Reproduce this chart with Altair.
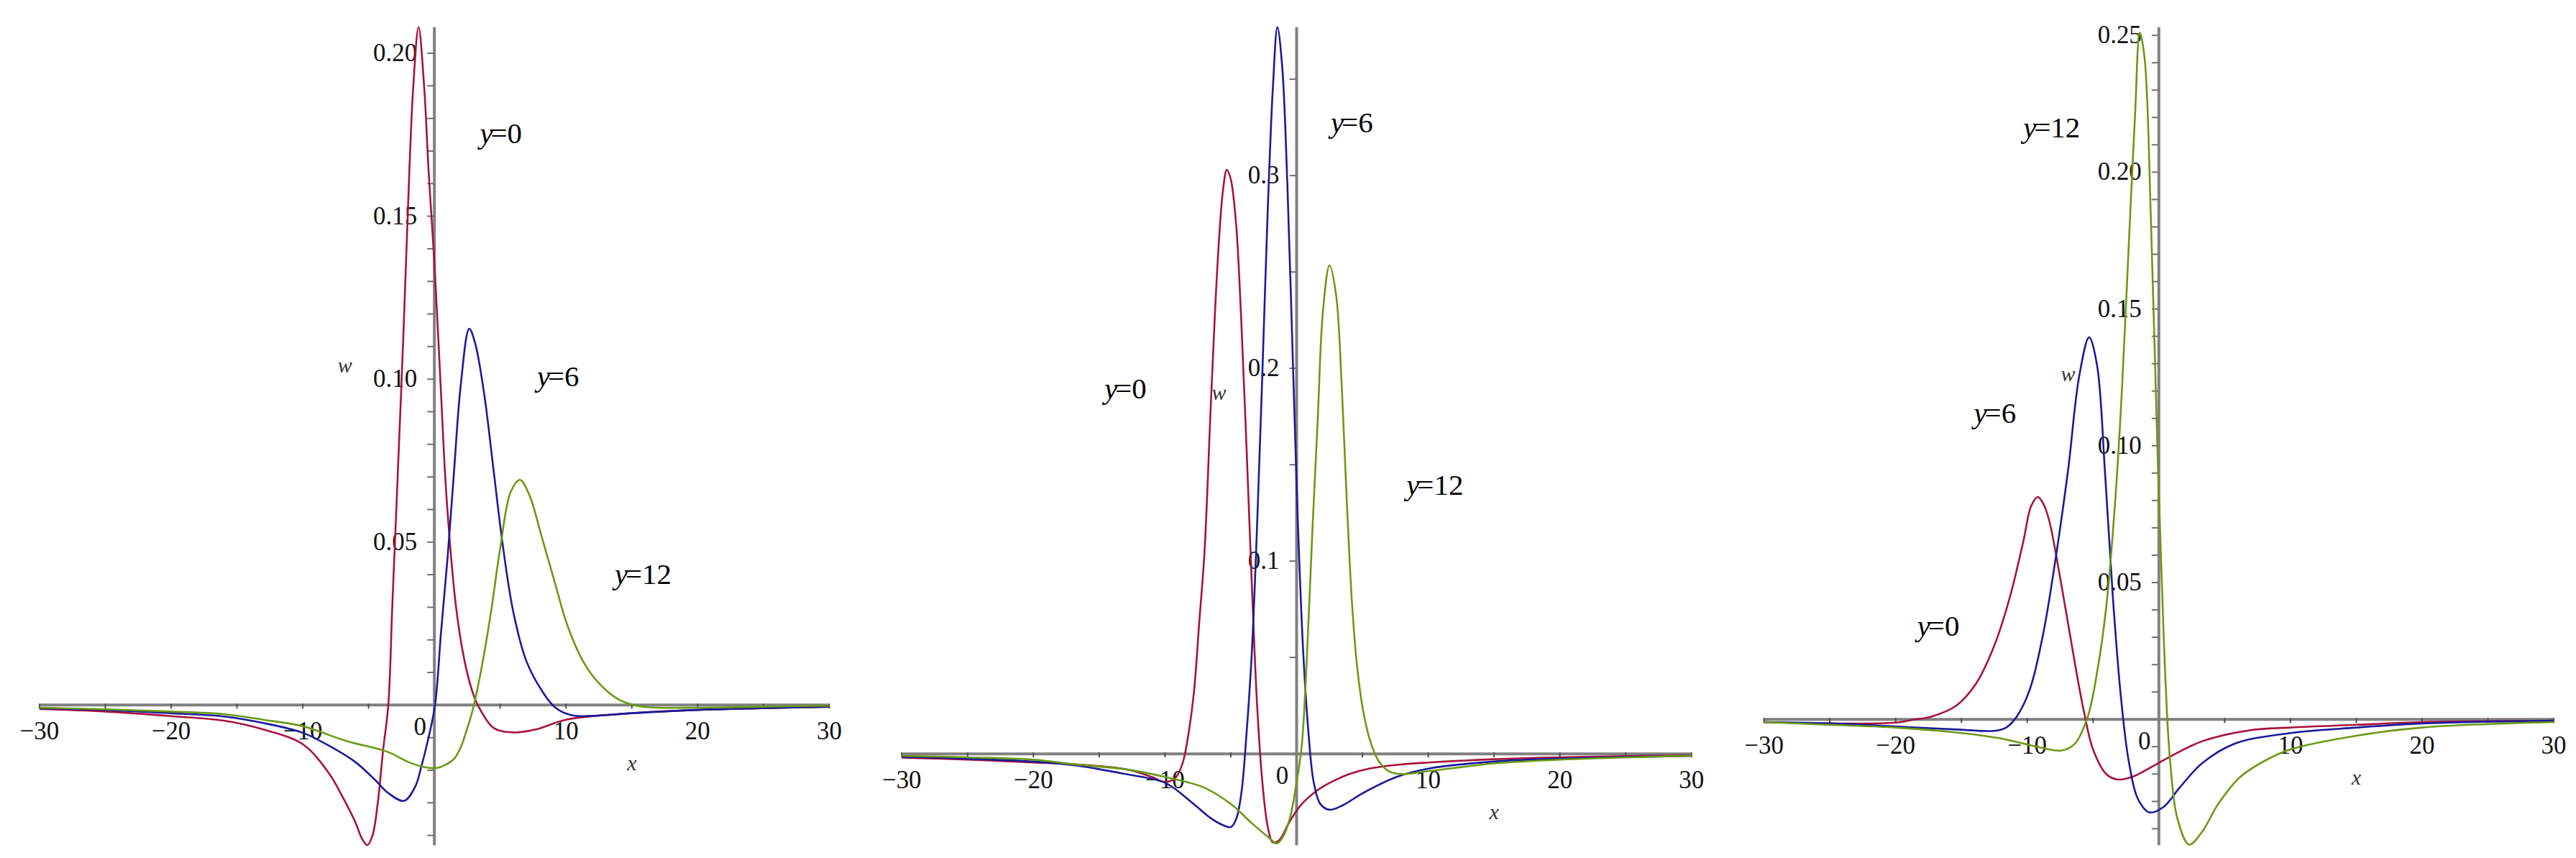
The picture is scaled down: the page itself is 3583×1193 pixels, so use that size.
import altair as alt
import pandas as pd

# ---------------- data ----------------
# Panel 1
P1_Y0_X = [-30, -25, -20, -16, -13, -10, -8, -7, -6, -5.5, -5.1, -4.7, -4.3, -3.9, -3.5, -3.2, -2.85, -2.35, -1.9, -1.6, -1.2, -0.78, -0.44, 0.0, 0.49, 0.92, 1.65, 2.3, 2.9, 3.3, 4.5, 6.0, 7.7, 10, 15, 20, 30]
P1_Y0_W = [-0.0012, -0.002, -0.0034, -0.0048, -0.0075, -0.012, -0.021, -0.028, -0.036, -0.041, -0.043, -0.040, -0.030, -0.014, 0.0, 0.030, 0.064, 0.114, 0.164, 0.190, 0.208, 0.190, 0.164, 0.136, 0.097, 0.064, 0.030, 0.0134, 0.004, 0.0, -0.007, -0.0084, -0.0075, -0.0045, -0.0025, -0.0015, -0.0005]
P1_Y6_X = [-30, -25, -20, -16, -13, -10, -8, -6, -4.5, -3.5, -2.3, -1.45, -1.0, -0.5, 0.05, 0.5, 1.0, 1.5, 2.0, 2.65, 3.1, 3.8, 4.5, 5.2, 6.0, 7.0, 8.2, 9.2, 10.5, 12, 15, 20, 30]
P1_Y6_W = [-0.001, -0.0015, -0.0025, -0.0035, -0.0055, -0.0085, -0.0125, -0.0175, -0.023, -0.027, -0.0294, -0.025, -0.019, -0.011, 0.0, 0.022, 0.045, 0.072, 0.098, 0.1155, 0.111, 0.095, 0.072, 0.049, 0.0285, 0.0134, 0.0042, -0.0008, -0.0032, -0.0033, -0.0025, -0.0015, -0.0005]
P1_Y12_X = [-30, -25, -20, -16, -13, -10, -6.7, -3.6, -1.9, -0.8, 0.2, 1.0, 1.5, 2.0, 2.4, 2.9, 3.6, 4.3, 5.0, 5.8, 6.5, 7.2, 8.2, 9.2, 10.1, 11.3, 12.5, 14, 15.5, 17, 20, 25, 30]
P1_Y12_W = [-0.0008, -0.0013, -0.002, -0.0028, -0.0045, -0.0065, -0.011, -0.0143, -0.0176, -0.019, -0.0193, -0.018, -0.0165, -0.013, -0.0084, -0.0017, 0.0117, 0.0285, 0.048, 0.0654, 0.0691, 0.0646, 0.0510, 0.0369, 0.0245, 0.0134, 0.0067, 0.0017, -0.0003, -0.0008, -0.0008, -0.0005, -0.0002]

# Panel 2
P2_Y0_X = [-30, -25, -20, -16.8, -13, -11, -10.1, -9.4, -9.0, -8.6, -8.2, -7.8, -7.4, -7.0, -6.5, -6.0, -5.6, -5.3, -5.0, -4.6, -4.2, -3.8, -3.4, -3.0, -2.6, -2.2, -1.8, -1.3, -0.6, 0.2, 1.0, 2.0, 3.0, 4.0, 5.5, 7.6, 10, 15, 20, 30]
P2_Y0_W = [-0.002, -0.003, -0.0045, -0.0055, -0.008, -0.012, -0.0145, -0.0135, -0.0105, -0.0034, 0.011, 0.032, 0.068, 0.1045, 0.184, 0.255, 0.292, 0.303, 0.298, 0.275, 0.224, 0.158, 0.0875, 0.025, -0.0148, -0.0375, -0.046, -0.0446, -0.036, -0.0276, -0.022, -0.017, -0.0134, -0.0105, -0.0077, -0.0057, -0.0045, -0.0028, -0.0018, -0.0008]
P2_Y6_X = [-30, -25, -20, -16.8, -13, -10, -8, -6.5, -5.6, -5.0, -4.6, -4.2, -3.8, -3.4, -3.0, -2.6, -2.2, -1.8, -1.46, -1.1, -0.7, -0.3, 0.1, 0.5, 0.9, 1.3, 1.8, 2.5, 3.5, 5, 7.6, 10, 15, 20, 30]
P2_Y6_W = [-0.0015, -0.0025, -0.004, -0.006, -0.0105, -0.015, -0.025, -0.0335, -0.037, -0.038, -0.034, -0.0205, 0.011, 0.053, 0.119, 0.198, 0.281, 0.346, 0.377, 0.357, 0.295, 0.207, 0.119, 0.053, 0.011, -0.0148, -0.026, -0.029, -0.0267, -0.0205, -0.012, -0.0077, -0.004, -0.0025, -0.001]
P2_Y12_X = [-30, -25, -20, -16.8, -13, -10, -7, -5, -3.4, -2.1, -1.5, -1.0, -0.5, 0.0, 0.4, 0.8, 1.2, 1.6, 2.0, 2.5, 3.0, 3.4, 3.8, 4.2, 4.6, 5.1, 5.6, 6.2, 7.0, 8, 10, 15, 20, 30]
P2_Y12_W = [-0.001, -0.0018, -0.003, -0.0055, -0.008, -0.012, -0.0176, -0.026, -0.036, -0.0435, -0.0465, -0.0426, -0.033, -0.0148, 0.005, 0.053, 0.116, 0.173, 0.2295, 0.2534, 0.238, 0.195, 0.133, 0.079, 0.045, 0.0207, 0.0065, -0.0034, -0.009, -0.0105, -0.009, -0.005, -0.003, -0.001]

# Panel 3
P3_Y0_X = [-30, -25, -20, -18.5, -17.3, -15.4, -13.9, -12.5, -11.3, -10.3, -9.7, -9.2, -8.8, -8.35, -7.4, -6.4, -5.7, -5.0, -4.0, -3.15, -2.0, -0.4, 1.1, 3.3, 6.9, 10, 15, 20, 30]
P3_Y0_W = [-0.001, -0.0015, -0.0012, 0.0, 0.001, 0.005, 0.013, 0.027, 0.045, 0.065, 0.078, 0.0813, 0.079, 0.073, 0.049, 0.021, 0.003, -0.011, -0.020, -0.022, -0.021, -0.017, -0.013, -0.008, -0.004, -0.003, -0.002, -0.001, -0.0005]
P3_Y6_X = [-30, -25, -20, -15, -12.5, -11.6, -10.8, -9.8, -8.8, -7.9, -6.9, -6.05, -5.3, -4.7, -4.1, -3.5, -2.9, -2.3, -1.6, -0.73, 0.36, 1.57, 3.3, 5.7, 10, 15, 20, 30]
P3_Y6_W = [-0.001, -0.0015, -0.0026, -0.0038, -0.0042, -0.003, 0.001, 0.011, 0.031, 0.057, 0.091, 0.1255, 0.1396, 0.1295, 0.091, 0.045, 0.009, -0.015, -0.029, -0.034, -0.032, -0.025, -0.016, -0.009, -0.005, -0.003, -0.0015, -0.0005]
P3_Y12_X = [-30, -25, -20, -15, -12, -9.8, -7.4, -6.4, -5.4, -4.7, -4.0, -3.3, -2.8, -2.3, -1.8, -1.45, -1.09, -0.6, -0.12, 0.36, 0.85, 1.45, 2.3, 3.3, 4.5, 6.2, 8.1, 10, 15, 20, 30]
P3_Y12_W = [-0.001, -0.002, -0.003, -0.005, -0.007, -0.0094, -0.0114, -0.009, 0.001, 0.017, 0.041, 0.081, 0.121, 0.172, 0.222, 0.251, 0.242, 0.182, 0.101, 0.031, -0.015, -0.037, -0.0458, -0.041, -0.031, -0.021, -0.015, -0.011, -0.006, -0.003, -0.001]

SERIES = ["y=0", "y=6", "y=12"]
COLORS = ["#a8123c", "#1a1a9c", "#6a9a14"]

# axis extents
P1_YDOM = [-0.043, 0.208]
P2_YDOM = [-0.0474, 0.377]
P3_YDOM = [-0.046, 0.253]
XDOM = [-30, 30]

# ticks and tick labels
X_TICKS = [-30, -25, -20, -15, -10, -5, 5, 10, 15, 20, 25, 30]
X_LABEL_VALS = [-30, -20, -10, 10, 20, 30]
X_LABELS = ["\u221230", "\u221220", "\u221210", "10", "20", "30"]
P1_YTICKS = [-0.04, -0.03, -0.02, -0.01, 0.01, 0.02, 0.03, 0.04, 0.05, 0.06, 0.07, 0.08, 0.09, 0.10,
             0.11, 0.12, 0.13, 0.14, 0.15, 0.16, 0.17, 0.18, 0.19, 0.20]
P1_YLABEL_VALS = [0.05, 0.10, 0.15, 0.20]
P1_YLABELS = ["0.05", "0.10", "0.15", "0.20"]
P2_YTICKS = [0.05, 0.10, 0.15, 0.20, 0.25, 0.30, 0.35]
P2_YLABEL_VALS = [0.1, 0.2, 0.3]
P2_YLABELS = ["0.1", "0.2", "0.3"]
P3_YTICKS = [-0.04, -0.03, -0.02, -0.01, 0.01, 0.02, 0.03, 0.04, 0.05, 0.06, 0.07, 0.08, 0.09, 0.10,
             0.11, 0.12, 0.13, 0.14, 0.15, 0.16, 0.17, 0.18, 0.19, 0.20, 0.21, 0.22, 0.23, 0.24, 0.25]
P3_YLABEL_VALS = [0.05, 0.10, 0.15, 0.20, 0.25]
P3_YLABELS = ["0.05", "0.10", "0.15", "0.20", "0.25"]

# curve annotations (left edge x, vertical centre w)
P1_ANN_X = [3.46, 7.8, 13.7]
P1_ANN_W = [0.175, 0.1004, 0.0399]
P2_ANN_X = [-14.6, 2.6, 8.35]
P2_ANN_W = [0.189, 0.327, 0.139]
P3_ANN_X = [-18.35, -14.05, -10.3]
P3_ANN_W = [0.0337, 0.1116, 0.216]
ANN_REST = ["=0", "=6", "=12"]

# axis-title positions ("w" and "x")
P1_WLAB = (-6.8, 0.104)
P2_WLAB = (-5.9, 0.187)
P3_WLAB = (-6.9, 0.126)
XLAB_X = 15.0

FONT = "Liberation Serif"
AXIS_COLOR = "#808080"


def panel(curves, ydom, yticks, ylab_vals, ylabs, ann_x, ann_w, wlab):
    xs = alt.Scale(domain=XDOM, nice=False, zero=False)
    ys = alt.Scale(domain=ydom, nice=False, zero=False)

    def X(f="x"):
        return alt.X(f"{f}:Q", scale=xs, axis=None)

    def Y(f="w"):
        return alt.Y(f"{f}:Q", scale=ys, axis=None)

    rows = []
    for name, (xv, wv) in zip(SERIES, curves):
        for a, b in zip(xv, wv):
            rows.append({"x": a, "w": b, "series": name})
    lines_df = pd.DataFrame(rows)

    xaxis = alt.Chart(pd.DataFrame({"x": [XDOM[0]], "x2": [XDOM[1]], "w": [0.0]})).mark_rule(
        color=AXIS_COLOR, strokeWidth=4).encode(x=X(), x2="x2:Q", y=Y())
    yaxis = alt.Chart(pd.DataFrame({"x": [0.0], "w": [ydom[0]], "w2": [ydom[1]]})).mark_rule(
        color=AXIS_COLOR, strokeWidth=4).encode(x=X(), y=Y(), y2="w2:Q")

    xt_df = pd.DataFrame({"x": X_TICKS, "w": [0.0] * len(X_TICKS)})
    xticks = alt.Chart(xt_df).mark_rule(color="#505050", strokeWidth=2, yOffset=-2, y2Offset=5).encode(
        x=X(), y=Y(), y2=alt.Y2("w:Q"))
    yt_df = pd.DataFrame({"x": [0.0] * len(yticks), "w": yticks})
    yticks_l = alt.Chart(yt_df).mark_rule(color="#707070", strokeWidth=2, xOffset=-1, x2Offset=-10).encode(
        x=X(), x2=alt.X2("x:Q"), y=Y())

    xl_df = pd.DataFrame({"x": X_LABEL_VALS, "w": [0.0] * len(X_LABEL_VALS), "t": X_LABELS})
    xlabels = alt.Chart(xl_df).mark_text(font=FONT, fontSize=35, color="#111111", align="center",
                                         baseline="middle", dy=37).encode(x=X(), y=Y(), text="t:N")
    zero_lab = alt.Chart(pd.DataFrame({"x": [0.0], "w": [0.0], "t": ["0"]})).mark_text(
        font=FONT, fontSize=35, color="#111111", align="center", baseline="middle", dx=-20, dy=31).encode(
        x=X(), y=Y(), text="t:N")
    yl_df = pd.DataFrame({"x": [0.0] * len(ylab_vals), "w": ylab_vals, "t": ylabs})
    ylabels = alt.Chart(yl_df).mark_text(font=FONT, fontSize=35, color="#111111", align="right",
                                         baseline="middle", dx=-24).encode(x=X(), y=Y(), text="t:N")

    wl = alt.Chart(pd.DataFrame({"x": [wlab[0]], "w": [wlab[1]], "t": ["w"]})).mark_text(
        font=FONT, fontSize=30, fontStyle="italic", color="#333333", align="center", baseline="middle").encode(
        x=X(), y=Y(), text="t:N")
    xl = alt.Chart(pd.DataFrame({"x": [XLAB_X], "w": [0.0], "t": ["x"]})).mark_text(
        font=FONT, fontSize=30, fontStyle="italic", color="#333333", align="center", baseline="middle",
        dy=82).encode(x=X(), y=Y(), text="t:N")

    lines = alt.Chart(lines_df).mark_line(interpolate="catmull-rom", strokeWidth=2.6).encode(
        x=X(), y=Y(),
        color=alt.Color("series:N", scale=alt.Scale(domain=SERIES, range=COLORS), legend=None),
        detail="series:N")

    ann_df = pd.DataFrame({"x": ann_x, "w": ann_w, "y": ["y"] * 3, "r": ANN_REST})
    ann_y = alt.Chart(ann_df).mark_text(font=FONT, fontSize=41, fontStyle="italic", color="#000000",
                                        align="left", baseline="middle").encode(x=X(), y=Y(), text="y:N")
    ann_r = alt.Chart(ann_df).mark_text(font=FONT, fontSize=41, color="#000000",
                                        align="left", baseline="middle", dx=15).encode(x=X(), y=Y(), text="r:N")

    return alt.layer(xaxis, yaxis, xticks, yticks_l, xlabels, zero_lab, ylabels, wl, xl,
                     lines, ann_y, ann_r).properties(width=1100, height=1139)


p1 = panel([(P1_Y0_X, P1_Y0_W), (P1_Y6_X, P1_Y6_W), (P1_Y12_X, P1_Y12_W)], P1_YDOM,
           P1_YTICKS, P1_YLABEL_VALS, P1_YLABELS, P1_ANN_X, P1_ANN_W, P1_WLAB)
p2 = panel([(P2_Y0_X, P2_Y0_W), (P2_Y6_X, P2_Y6_W), (P2_Y12_X, P2_Y12_W)], P2_YDOM,
           P2_YTICKS, P2_YLABEL_VALS, P2_YLABELS, P2_ANN_X, P2_ANN_W, P2_WLAB)
p3 = panel([(P3_Y0_X, P3_Y0_W), (P3_Y6_X, P3_Y6_W), (P3_Y12_X, P3_Y12_W)], P3_YDOM,
           P3_YTICKS, P3_YLABEL_VALS, P3_YLABELS, P3_ANN_X, P3_ANN_W, P3_WLAB)

chart = alt.hconcat(p1, p2, p3, spacing=101, bounds="flush").properties(
    padding={"left": 19, "top": 23, "right": 5, "bottom": 5},
    background="white",
).configure_view(strokeWidth=0)

chart.save("out.html", embed_options={"renderer": "svg", "actions": False})
